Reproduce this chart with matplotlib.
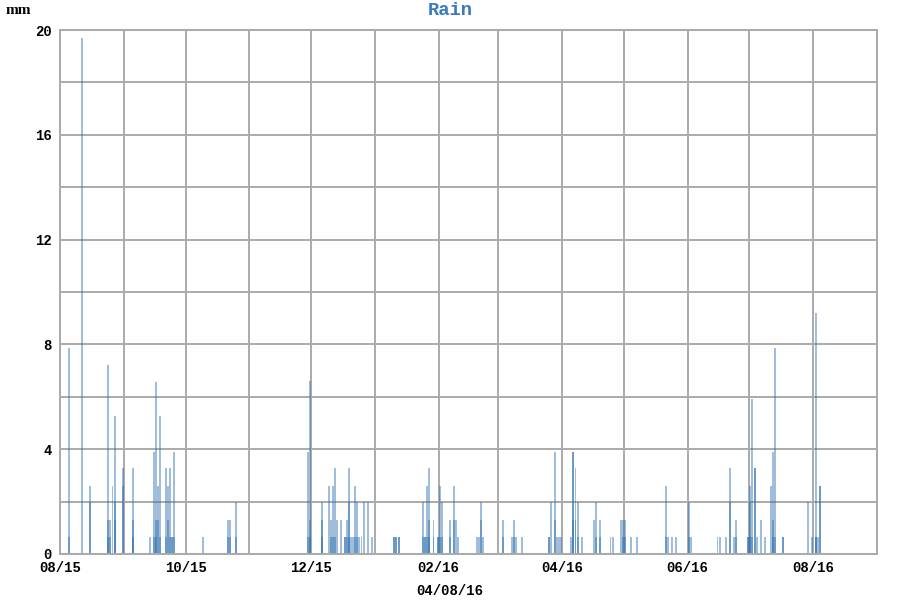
import pandas as pd
import matplotlib
matplotlib.use("Agg")
import matplotlib.pyplot as plt
import matplotlib.dates as mdates

rain_dates = [
    "2015-08-05", "2015-08-05", "2015-08-11", "2015-08-15", "2015-08-15",
    "2015-08-24", "2015-08-24", "2015-08-24", "2015-08-25", "2015-08-25",
    "2015-08-26", "2015-08-27", "2015-08-27", "2015-08-27",
    "2015-08-31", "2015-08-31", "2015-09-05", "2015-09-05", "2015-09-05",
    "2015-09-13", "2015-09-15", "2015-09-15", "2015-09-16", "2015-09-16", "2015-09-16",
    "2015-09-17", "2015-09-17", "2015-09-18", "2015-09-18",
    "2015-09-21", "2015-09-21", "2015-09-22", "2015-09-22", "2015-09-23", "2015-09-23",
    "2015-09-24", "2015-09-24", "2015-09-25", "2015-09-25",
    "2015-10-09", "2015-10-21", "2015-10-21", "2015-10-22", "2015-10-22",
    "2015-10-25", "2015-10-25",
    "2015-11-29", "2015-11-29", "2015-11-30", "2015-11-30", "2015-11-30",
    "2015-12-06", "2015-12-06", "2015-12-06", "2015-12-09",
    "2015-12-10", "2015-12-10", "2015-12-11", "2015-12-11", "2015-12-12", "2015-12-12",
    "2015-12-13", "2015-12-15", "2015-12-17", "2015-12-17", "2015-12-18", "2015-12-18",
    "2015-12-19", "2015-12-19", "2015-12-19", "2015-12-20",
    "2015-12-21", "2015-12-22", "2015-12-22", "2015-12-23", "2015-12-23",
    "2015-12-24", "2015-12-25", "2015-12-26", "2015-12-28", "2015-12-30",
    "2016-01-10", "2016-01-10", "2016-01-11", "2016-01-11", "2016-01-12", "2016-01-12",
    "2016-01-24", "2016-01-24", "2016-01-25", "2016-01-25", "2016-01-26", "2016-01-26",
    "2016-01-27", "2016-01-27", "2016-01-27", "2016-01-29", "2016-01-29",
    "2016-01-31", "2016-01-31", "2016-02-01", "2016-02-01", "2016-02-02", "2016-02-02",
    "2016-02-06", "2016-02-06", "2016-02-08", "2016-02-08", "2016-02-09", "2016-02-10",
    "2016-02-19", "2016-02-20", "2016-02-21", "2016-02-21", "2016-02-22",
    "2016-03-03", "2016-03-03", "2016-03-07", "2016-03-08", "2016-03-08", "2016-03-09",
    "2016-03-12", "2016-03-25", "2016-03-25", "2016-03-26",
    "2016-03-28", "2016-03-28", "2016-03-29", "2016-03-30", "2016-03-31",
    "2016-04-05", "2016-04-06", "2016-04-06", "2016-04-06", "2016-04-07", "2016-04-07",
    "2016-04-08", "2016-04-08", "2016-04-10",
    "2016-04-16", "2016-04-17", "2016-04-17", "2016-04-19", "2016-04-19",
    "2016-04-24", "2016-04-25", "2016-04-29", "2016-04-30", "2016-04-30",
    "2016-05-01", "2016-05-01", "2016-05-04", "2016-05-07",
    "2016-05-21", "2016-05-21", "2016-05-22", "2016-05-24", "2016-05-26",
    "2016-06-01", "2016-06-01", "2016-06-02",
    "2016-06-15", "2016-06-16", "2016-06-19", "2016-06-21", "2016-06-21",
    "2016-06-23", "2016-06-24", "2016-06-24",
    "2016-06-30", "2016-06-30", "2016-07-01", "2016-07-01", "2016-07-01",
    "2016-07-02", "2016-07-02", "2016-07-03", "2016-07-03", "2016-07-04",
    "2016-07-06", "2016-07-08",
    "2016-07-11", "2016-07-12", "2016-07-12", "2016-07-12", "2016-07-13", "2016-07-13",
    "2016-07-17", "2016-07-17", "2016-07-29", "2016-07-31",
    "2016-08-02", "2016-08-02", "2016-08-02", "2016-08-03", "2016-08-04", "2016-08-04",
]
rain_mm = [
    7.85, 0.65, 19.7, 2.6, 2.0,
    1.3, 7.2, 0.65, 0.65, 1.3,
    2.6, 5.25, 2.0, 1.3,
    3.3, 2.6, 3.3, 1.3, 0.65,
    0.65, 3.9, 0.65, 6.55, 1.3, 0.65,
    2.6, 1.3, 5.25, 0.65,
    0.65, 3.3, 1.3, 2.6, 3.3, 0.65,
    0.65, 0.65, 3.9, 0.65,
    0.65, 1.3, 0.65, 1.3, 0.65,
    2.0, 0.65,
    3.9, 0.65, 6.6, 1.3, 0.65,
    2.0, 1.3, 0.65, 2.6,
    0.65, 1.3, 2.6, 0.65, 3.3, 0.65,
    1.3, 1.3, 0.65, 0.65, 1.3, 0.65,
    3.3, 2.0, 0.65, 0.65,
    0.65, 2.6, 0.65, 2.0, 0.65,
    0.65, 0.65, 2.0, 2.0, 0.65,
    0.65, 0.65, 0.65, 0.65, 0.65, 0.65,
    2.0, 0.65, 0.65, 0.65, 2.6, 0.65,
    3.3, 1.3, 0.65, 1.3, 0.65,
    0.65, 0.65, 2.6, 0.65, 2.0, 0.65,
    0.65, 1.3, 2.6, 1.3, 1.3, 0.65,
    0.65, 0.65, 2.0, 1.3, 0.65,
    1.3, 0.65, 0.65, 1.3, 0.65, 0.65,
    0.65, 0.65, 0.65, 2.0,
    3.9, 1.3, 0.65, 0.65, 0.65,
    0.65, 3.9, 3.9, 1.3, 3.3, 1.3,
    2.0, 0.65, 0.65,
    1.3, 2.0, 0.65, 1.3, 0.65,
    0.65, 0.65, 1.3, 1.3, 0.65,
    1.3, 0.65, 0.65, 0.65,
    2.6, 0.65, 0.65, 0.65, 0.65,
    2.0, 0.65, 0.65,
    0.65, 0.65, 0.65, 3.3, 2.0,
    0.65, 1.3, 0.65,
    0.65, 0.65, 2.6, 2.0, 0.65,
    5.9, 0.65, 3.3, 3.3, 0.65,
    1.3, 0.65,
    2.6, 3.9, 1.3, 0.65, 7.85, 0.65,
    0.65, 0.65, 2.0, 0.65,
    9.2, 0.65, 0.65, 0.65, 2.6, 2.6,
]

x_ticks = ["2015-08-01", "2015-10-01", "2015-12-01", "2016-02-01",
           "2016-04-01", "2016-06-01", "2016-08-01"]
y_ticks = [0, 4, 8, 12, 16, 20]
date_label = "04/08/16"

mono = "Liberation Mono"
bar_color = "#2c6fb0"
grid_color = "#aaaaaa"

dates = pd.to_datetime(rain_dates) + pd.Timedelta(hours=12)

fig = plt.figure(figsize=(9, 6), dpi=100)
ax = fig.add_axes([0.0667, 0.0767, 0.9077, 0.8733])

ax.bar(dates, rain_mm, width=0.95, color=bar_color, alpha=0.45, linewidth=0)

ax.set_xlim(pd.Timestamp("2015-08-01"), pd.Timestamp("2016-09-01"))
ax.set_ylim(0, 20)

ax.set_xticks(pd.to_datetime(x_ticks))
ax.xaxis.set_major_formatter(mdates.DateFormatter("%m/%y"))
ax.xaxis.set_minor_locator(mdates.MonthLocator())
ax.set_yticks(y_ticks)
ax.set_yticks(range(0, 21, 2), minor=True)

ax.grid(True, which="both", color=grid_color, linewidth=1.4)
ax.set_axisbelow(True)
ax.tick_params(which="both", length=0)
ax.tick_params(axis="x", pad=5)
ax.tick_params(axis="y", pad=6)
for lab in ax.get_xticklabels() + ax.get_yticklabels():
    lab.set_fontfamily(mono)
    lab.set_fontweight("bold")
    lab.set_fontsize(10)
for s in ax.spines.values():
    s.set_color(grid_color)
    s.set_linewidth(1.4)

fig.text(0.5, 0.983, "Rain", ha="center", va="center", family=mono,
         fontweight="bold", fontsize=13.5, color="#3a7bbf")
fig.text(0.006, 0.983, "mm", ha="left", va="center", family="Liberation Serif",
         fontweight="bold", fontsize=11)
fig.text(0.5, 0.015, date_label, ha="center", va="center", family=mono,
         fontweight="bold", fontsize=10)

fig.savefig("out.png", dpi=100)
